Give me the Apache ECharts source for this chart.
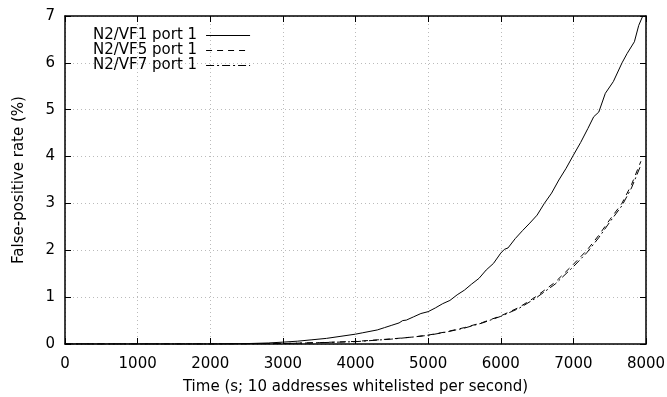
<!DOCTYPE html>
<html><head><meta charset="utf-8">
<script src="https://cdn.jsdelivr.net/npm/echarts@6/dist/echarts.min.js"></script>
<style>html,body{margin:0;padding:0;background:#fff}#c{width:667px;height:397px}</style>
</head><body><div id="c"></div>
<script>
var seriesNames = ["N2/VF1 port 1", "N2/VF5 port 1", "N2/VF7 port 1"];
var xTicks = [0, 1000, 2000, 3000, 4000, 5000, 6000, 7000, 8000];
var yTicks = [0, 1, 2, 3, 4, 5, 6, 7];
var vf1 = [[0,0],[1000,0],[2000,0],[2200,0.003],[2500,0.009],[2800,0.022],[3000,0.04],[3200,0.06],[3400,0.09],[3600,0.12],[3800,0.165],[4000,0.21],[4100,0.24],[4200,0.27],[4300,0.3],[4400,0.35],[4500,0.4],[4600,0.45],[4650,0.5],[4700,0.51],[4800,0.58],[4900,0.65],[5000,0.69],[5100,0.77],[5200,0.86],[5300,0.93],[5400,1.05],[5500,1.15],[5600,1.28],[5700,1.4],[5800,1.58],[5900,1.72],[6000,1.94],[6050,2.02],[6100,2.05],[6200,2.25],[6300,2.42],[6400,2.58],[6500,2.75],[6600,3.0],[6700,3.22],[6800,3.5],[6900,3.75],[7000,4.03],[7100,4.3],[7200,4.6],[7280,4.85],[7350,4.95],[7440,5.35],[7550,5.6],[7670,6.0],[7740,6.2],[7840,6.45],[7900,6.8],[7950,6.98],[7960,7.0]];
var vf5 = [[0,0],[2000,0],[2500,0.003],[3000,0.01],[3500,0.03],[4000,0.055],[4500,0.11],[4800,0.15],[5000,0.19],[5250,0.26],[5500,0.35],[5750,0.46],[6000,0.6],[6250,0.78],[6474,1.0],[6750,1.32],[7000,1.7],[7186,2.0],[7350,2.32],[7500,2.65],[7668,3.0],[7800,3.4],[7930,3.9]];
var vf7 = [[0,0],[2000,0],[2500,0.003],[3000,0.01],[3500,0.028],[4000,0.05],[4500,0.105],[4800,0.15],[5000,0.185],[5250,0.255],[5500,0.34],[5750,0.45],[6000,0.59],[6250,0.76],[6474,0.97],[6750,1.28],[7000,1.65],[7186,1.95],[7350,2.27],[7500,2.6],[7668,2.95],[7800,3.33],[7930,3.82]];

var font = "DejaVu Sans";
var fs = 15;
var chart = echarts.init(document.getElementById('c'), null, {renderer: 'canvas'});
var lineStyles = [
  {color: '#000', width: 1, type: 'solid'},
  {color: '#000', width: 1, type: [6, 5]},
  {color: '#000', width: 1, type: [8, 3, 2, 3]}
];
var datas = [vf1, vf5, vf7];
chart.setOption({
  animation: false,
  backgroundColor: '#fff',
  grid: {left: 65, right: 21, top: 16, bottom: 53, containLabel: false, outerBoundsMode: 'none'},
  legend: {
    show: true, left: 88, top: 23, orient: 'vertical', align: 'right',
    itemWidth: 44, itemHeight: 10, itemGap: 0,
    itemStyle: {opacity: 0},
    lineStyle: {width: 1},
    textStyle: {fontFamily: font, fontSize: fs, color: '#000', padding: [0, 4, 0, 0]},
    data: seriesNames
  },
  xAxis: [{
    type: 'value', min: 0, max: 8000, interval: 1000,
    name: 'Time (s; 10 addresses whitelisted per second)', nameLocation: 'middle', nameGap: 36,
    nameTextStyle: {fontFamily: font, fontSize: fs, color: '#000'},
    axisLine: {show: true, onZero: false, lineStyle: {color: '#000', width: 1.5}},
    axisTick: {show: true, inside: true, length: 6, lineStyle: {color: '#000'}},
    axisLabel: {fontFamily: font, fontSize: fs, color: '#000', margin: 13,
      formatter: function(v){return xTicks.indexOf(v) >= 0 ? String(v) : '';}},
    splitLine: {show: true, lineStyle: {color: '#bbb', type: [1, 3], width: 1}}
  }, {
    type: 'value', min: 0, max: 8000, interval: 1000, position: 'top',
    axisLine: {show: true, onZero: false, lineStyle: {color: '#000', width: 1.5}},
    axisTick: {show: true, inside: true, length: 6, lineStyle: {color: '#000'}},
    axisLabel: {show: false}, splitLine: {show: false}
  }],
  yAxis: [{
    type: 'value', min: 0, max: 7, interval: 1,
    name: 'False-positive rate (%)', nameLocation: 'middle', nameGap: 38,
    nameTextStyle: {fontFamily: font, fontSize: fs, color: '#000'},
    axisLine: {show: true, onZero: false, lineStyle: {color: '#000', width: 1.5}},
    axisTick: {show: true, inside: true, length: 6, lineStyle: {color: '#000'}},
    axisLabel: {fontFamily: font, fontSize: fs, color: '#000', margin: 10,
      formatter: function(v){return yTicks.indexOf(v) >= 0 ? String(v) : '';}},
    splitLine: {show: true, lineStyle: {color: '#bbb', type: [1, 3], width: 1}}
  }, {
    type: 'value', min: 0, max: 7, interval: 1, position: 'right',
    axisLine: {show: true, onZero: false, lineStyle: {color: '#000', width: 1.5}},
    axisTick: {show: true, inside: true, length: 6, lineStyle: {color: '#000'}},
    axisLabel: {show: false}, splitLine: {show: false}
  }],
  series: seriesNames.map(function(n, i){
    return {
      name: n, type: 'line', data: datas[i], showSymbol: false, symbol: 'none',
      smooth: false, lineStyle: lineStyles[i], itemStyle: {color: '#000'},
      xAxisIndex: 0, yAxisIndex: 0, z: 3 - i
    };
  })
});
</script></body></html>
